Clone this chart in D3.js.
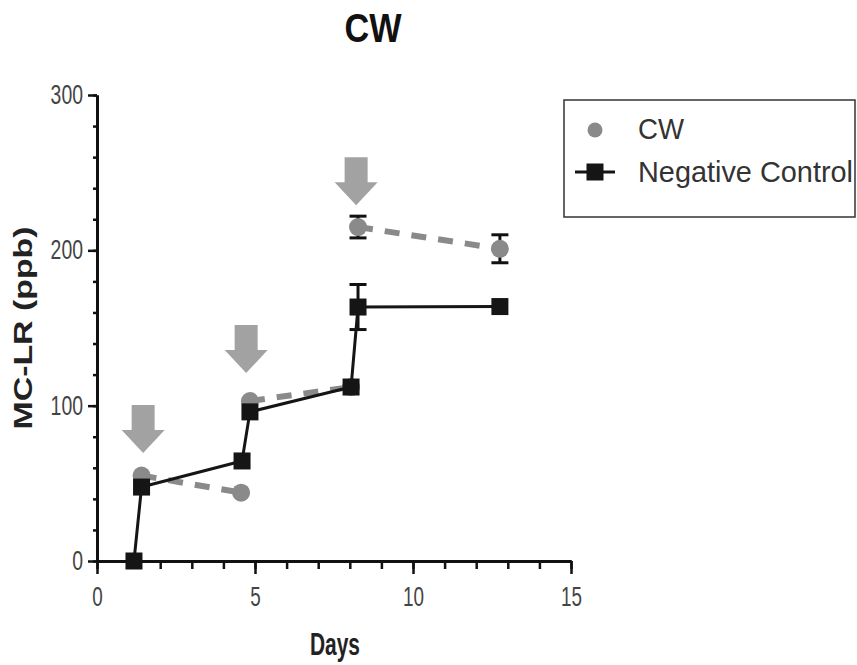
<!DOCTYPE html>
<html>
<head>
<meta charset="utf-8">
<script src="https://cdn.jsdelivr.net/npm/d3@7"></script>
<style>
  body { margin: 0; background: #fff; }
  svg { display: block; }
</style>
</head>
<body>
<div id="chart"></div>
<script>
// values
var ncDays = [1.17, 1.41, 4.59, 4.84, 8.04, 8.26, 12.75];
var ncValues = [0, 47.6, 64.4, 96, 112, 163.5, 163.8];
var ncErrors = [0, 0, 0, 0, 0, 14.5, 0];

var cwDays = [1.41, 4.56, 4.84, 8.04, 8.26, 12.75];
var cwValues = [55, 44, 103, 112, 215, 201];
var cwErrors = [0, 0, 0, 0, 7, 9];
var cwSegments = [1, 1, 2, 2, 3, 3];

var arrowDays = [1.46, 4.72, 8.2];
var arrowTips = [69.5, 121, 229];

var xTicks = [0, 5, 10, 15];
var yTicks = [0, 100, 200, 300];
var seriesNames = ['CW', 'Negative Control'];

function figure() {
    var width = 857, height = 665;
    var plot = { left: 97, right: 571, top: 95, bottom: 561 };

    var cwColor = '#8a8a8a';
    var ncColor = '#151515';
    var arrowColor = '#a2a2a2';
    var font = "'Liberation Sans', Arial, sans-serif";

    var svg = d3.select('#chart')
        .append('svg')
        .attr('width', width)
        .attr('height', height)
        .attr('viewBox', `0 0 ${width} ${height}`)
        .style('font-family', font);

    var x = d3.scaleLinear().domain([0, 15]).range([plot.left, plot.right]);
    var y = d3.scaleLinear().domain([0, 300]).range([plot.bottom, plot.top]);

    // title
    svg.append('text')
        .text('CW')
        .attr('x', 373).attr('y', 42)
        .attr('text-anchor', 'middle')
        .attr('textLength', 57).attr('lengthAdjust', 'spacingAndGlyphs')
        .style('font-size', '40px')
        .style('font-weight', 'bold')
        .style('fill', '#111');

    // axes: minor ticks first, then major with labels
    var xMinor = svg.append('g')
        .attr('transform', `translate(0, ${plot.bottom})`)
        .call(d3.axisBottom(x).tickValues(d3.range(0, 16)).tickSize(8).tickSizeOuter(0).tickFormat(''));
    var xMajor = svg.append('g')
        .attr('transform', `translate(0, ${plot.bottom})`)
        .call(d3.axisBottom(x).tickValues(xTicks).tickSize(13).tickSizeOuter(0));

    var yMinor = svg.append('g')
        .attr('transform', `translate(${plot.left}, 0)`)
        .call(d3.axisLeft(y).tickValues(d3.range(0, 301, 20)).tickSize(4).tickSizeOuter(0).tickFormat(''));
    var yMajor = svg.append('g')
        .attr('transform', `translate(${plot.left}, 0)`)
        .call(d3.axisLeft(y).tickValues(yTicks).tickSize(9).tickSizeOuter(0));

    [xMinor, xMajor, yMinor, yMajor].forEach(function(g) {
        g.select('.domain').attr('stroke', '#111').attr('stroke-width', 3);
        g.selectAll('.tick line').attr('stroke', '#111').attr('stroke-width', 2.5);
    });

    xMajor.selectAll('.tick text')
        .attr('y', 26)
        .attr('textLength', function(d) { return String(d).length * 10.5; })
        .attr('lengthAdjust', 'spacingAndGlyphs')
        .style('font-size', '27px')
        .style('font-family', font)
        .style('fill', '#444');

    yMajor.selectAll('.tick text')
        .attr('x', -14)
        .attr('textLength', function(d) { return String(d).length * 10.8; })
        .attr('lengthAdjust', 'spacingAndGlyphs')
        .style('font-size', '27px')
        .style('font-family', font)
        .style('fill', '#444');

    // axis titles
    svg.append('text')
        .text('Days')
        .attr('x', 335).attr('y', 655)
        .attr('text-anchor', 'middle')
        .attr('textLength', 50).attr('lengthAdjust', 'spacingAndGlyphs')
        .style('font-size', '31px')
        .style('font-weight', 'bold')
        .style('fill', '#222');

    svg.append('text')
        .text('MC-LR (ppb)')
        .attr('transform', 'translate(32, 328) rotate(-90)')
        .attr('text-anchor', 'middle')
        .attr('textLength', 203).attr('lengthAdjust', 'spacingAndGlyphs')
        .style('font-size', '26px')
        .style('font-weight', 'bold')
        .style('fill', '#222');

    // arrows marking the additions
    var arrowData = arrowDays.map(function(d, i) { return { day: d, tip: arrowTips[i] }; });
    svg.append('g').selectAll('path')
        .data(arrowData)
        .enter()
        .append('path')
        .attr('d', function(d) {
            var cx = x(d.day), ty = y(d.tip);
            return `M${cx - 11.5},${ty - 48} L${cx + 11.5},${ty - 48} L${cx + 11.5},${ty - 23} ` +
                   `L${cx + 21.5},${ty - 23} L${cx},${ty} L${cx - 21.5},${ty - 23} L${cx - 11.5},${ty - 23} Z`;
        })
        .attr('fill', arrowColor);

    var cwData = cwDays.map(function(d, i) {
        return { day: d, value: cwValues[i], err: cwErrors[i], seg: cwSegments[i] };
    });
    var ncData = ncDays.map(function(d, i) {
        return { day: d, value: ncValues[i], err: ncErrors[i] };
    });

    var line = d3.line()
        .x(function(d) { return x(d.day); })
        .y(function(d) { return y(d.value); });

    function errorBars(data) {
        var g = svg.append('g');
        var withErr = data.filter(function(d) { return d.err > 0; });
        g.selectAll('line.stem').data(withErr).enter().append('line')
            .attr('x1', function(d) { return x(d.day); })
            .attr('x2', function(d) { return x(d.day); })
            .attr('y1', function(d) { return y(d.value - d.err); })
            .attr('y2', function(d) { return y(d.value + d.err); })
            .attr('stroke', '#111').attr('stroke-width', 3);
        [-1, 1].forEach(function(s) {
            g.selectAll(null).data(withErr).enter().append('line')
                .attr('x1', function(d) { return x(d.day) - 8.5; })
                .attr('x2', function(d) { return x(d.day) + 8.5; })
                .attr('y1', function(d) { return y(d.value + s * d.err); })
                .attr('y2', function(d) { return y(d.value + s * d.err); })
                .attr('stroke', '#111').attr('stroke-width', 3);
        });
    }

    // CW series (dashed gray, broken at each addition)
    errorBars(cwData);
    var cwGroups = d3.groups(cwData, function(d) { return d.seg; });
    svg.append('g').selectAll('path')
        .data(cwGroups)
        .enter()
        .append('path')
        .attr('d', function(d) { return line(d[1]); })
        .attr('fill', 'none')
        .attr('stroke', cwColor)
        .attr('stroke-width', 6)
        .attr('stroke-dasharray', '15,12');
    svg.append('g').selectAll('circle')
        .data(cwData)
        .enter()
        .append('circle')
        .attr('cx', function(d) { return x(d.day); })
        .attr('cy', function(d) { return y(d.value); })
        .attr('r', 9)
        .attr('fill', cwColor);

    // Negative control series
    errorBars(ncData);
    svg.append('path')
        .datum(ncData)
        .attr('d', line)
        .attr('fill', 'none')
        .attr('stroke', ncColor)
        .attr('stroke-width', 3);
    svg.append('g').selectAll('rect')
        .data(ncData)
        .enter()
        .append('rect')
        .attr('x', function(d) { return x(d.day) - 8.5; })
        .attr('y', function(d) { return y(d.value) - 8.5; })
        .attr('width', 17)
        .attr('height', 17)
        .attr('fill', ncColor);

    // legend
    var legend = svg.append('g');
    legend.append('rect')
        .attr('x', 564).attr('y', 100)
        .attr('width', 291).attr('height', 117)
        .attr('fill', 'none')
        .attr('stroke', '#333')
        .attr('stroke-width', 1.5);

    legend.append('circle')
        .attr('cx', 595).attr('cy', 130).attr('r', 7.5)
        .attr('fill', cwColor);
    legend.append('line')
        .attr('x1', 575).attr('x2', 615)
        .attr('y1', 172).attr('y2', 172)
        .attr('stroke', ncColor).attr('stroke-width', 3);
    legend.append('rect')
        .attr('x', 586.5).attr('y', 163.5)
        .attr('width', 17).attr('height', 17)
        .attr('fill', ncColor);

    var legendY = [139, 182];
    var legendLen = [46, 215];
    seriesNames.forEach(function(name, i) {
        legend.append('text')
            .text(name)
            .attr('x', 638).attr('y', legendY[i])
            .attr('textLength', legendLen[i]).attr('lengthAdjust', 'spacingAndGlyphs')
            .style('font-size', '29px')
            .style('fill', '#333');
    });
}

figure();
</script>
</body>
</html>
